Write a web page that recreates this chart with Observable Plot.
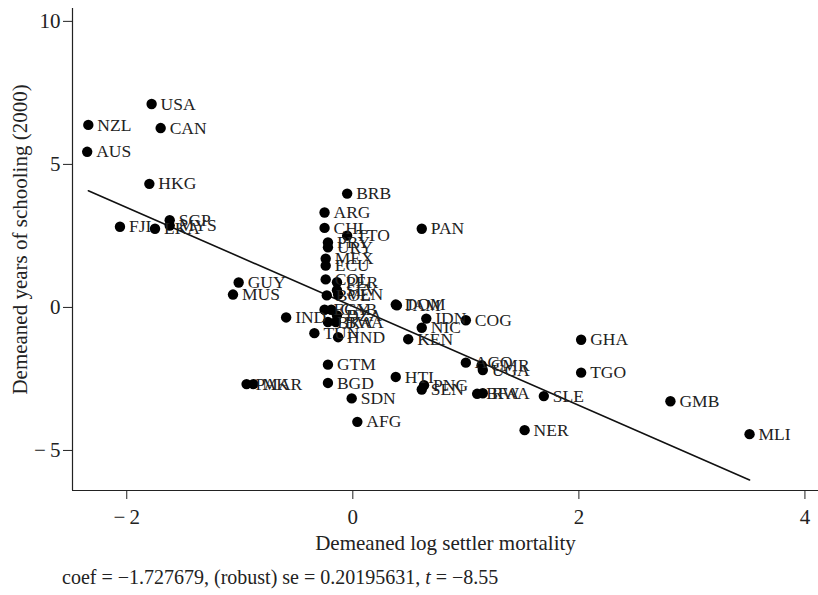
<!DOCTYPE html>
<html>
<head>
<meta charset="utf-8">
<script src="https://cdn.jsdelivr.net/npm/d3@7"></script>
<script src="https://cdn.jsdelivr.net/npm/@observablehq/plot@0.6"></script>
<style>
  html, body { margin: 0; padding: 0; background: #fff; }
  #wrap { width: 818px; height: 595px; position: relative; font-family: "Liberation Serif", "DejaVu Serif", serif; }
  #foot { position: absolute; left: 62px; top: 565px; font-size: 20px; line-height: 24px; color: #222; white-space: nowrap; }
</style>
</head>
<body>
<div id="wrap">
  <div id="chart"></div>
  <div id="foot">coef = −1.727679, (robust) se = 0.20195631, <i>t</i> = −8.55</div>
</div>
<script>
const countries = ["USA","NZL","CAN","AUS","HKG","FJI","SGP","MYS","LKA","GUY","MUS","IND","TUN","PAK","MAR",
  "BRB","ARG","CHL","TTO","PRY","URY","MEX","ECU","COL","PER","SLV","BOL","VEN","EGY","GAB","DZA","BRA","BWA","HND",
  "GTM","BGD","SDN","AFG","HTI","DOM","JAM","IDN","NIC","COG","KEN","PAN","AGO","CMR","UGA","PNG","SEN","BFA","RWA",
  "SLE","GHA","TGO","GMB","NER","MLI"];
const logMortality = [-1.78,-2.34,-1.70,-2.35,-1.80,-2.06,-1.62,-1.62,-1.75,-1.01,-1.06,-0.59,-0.34,-0.94,-0.88,
  -0.05,-0.25,-0.25,-0.05,-0.22,-0.22,-0.24,-0.24,-0.24,-0.14,-0.14,-0.23,-0.13,-0.25,-0.19,-0.14,-0.22,-0.15,-0.13,
  -0.22,-0.22,-0.01,0.04,0.38,0.38,0.39,0.65,0.61,1.00,0.49,0.61,1.00,1.14,1.15,0.63,0.61,1.10,1.15,
  1.69,2.02,2.02,2.81,1.52,3.51];
const schooling = [7.11,6.38,6.27,5.44,4.32,2.82,3.05,2.86,2.75,0.87,0.45,-0.35,-0.90,-2.68,-2.68,
  3.98,3.32,2.78,2.51,2.27,2.10,1.70,1.46,0.98,0.88,0.60,0.42,0.45,-0.08,-0.08,-0.28,-0.51,-0.51,-1.04,
  -2.00,-2.64,-3.18,-4.00,-2.43,0.10,0.07,-0.39,-0.71,-0.45,-1.11,2.75,-1.93,-2.02,-2.19,-2.72,-2.87,-3.02,-3.00,
  -3.10,-1.13,-2.28,-3.28,-4.29,-4.43];
const fitX = [-2.34, 3.51];
const fitY = [4.08, -6.03];
const xTicks = [-2, 0, 2, 4];
const yTicks = [-5, 0, 5, 10];
const xDomain = [-2.48, 4.12];
const yDomain = [-6.4, 10.45];
const xTitle = "Demeaned log settler mortality";
const yTitle = "Demeaned years of schooling (2000)";

const points = countries.map((c, i) => ({c, x: logMortality[i], y: schooling[i]}));
const fit = fitX.map((x, i) => ({x, y: fitY[i]}));
const fmt = d => d < 0 ? "\u2212\u2009" + Math.abs(d) : String(d);

const chart = Plot.plot({
  width: 818,
  height: 562,
  marginLeft: 72,
  marginRight: 0,
  marginTop: 8,
  marginBottom: 72,
  style: {fontFamily: "Liberation Serif, DejaVu Serif, serif", background: "#fff", color: "#222"},
  x: {domain: xDomain},
  y: {domain: yDomain},
  marks: [
    Plot.axisX({ticks: xTicks, tickFormat: fmt, tickSize: 9, tickPadding: 10, fontSize: 21, label: null, stroke: "#222"}),
    Plot.axisY({ticks: yTicks, tickFormat: fmt, tickSize: 9, tickPadding: 3, fontSize: 21, label: null, stroke: "#222"}),
    Plot.ruleY([yDomain[0]], {stroke: "#222", strokeWidth: 1.2}),
    Plot.ruleX([xDomain[0]], {stroke: "#222", strokeWidth: 1.2}),
    Plot.line(fit, {x: "x", y: "y", stroke: "#111", strokeWidth: 1.6}),
    Plot.dot(points, {x: "x", y: "y", r: 5.2, fill: "#000", stroke: "none"}),
    Plot.text(points, {x: "x", y: "y", text: "c", textAnchor: "start", dx: 9, fontSize: 17.5, fill: "#222"}),
    Plot.text([xTitle], {frameAnchor: "bottom", dy: 59, fontSize: 21, fill: "#222"}),
    Plot.text([yTitle], {frameAnchor: "left", textAnchor: "middle", rotate: -90, dx: -52, dy: -10, fontSize: 21, fill: "#222"})
  ]
});
document.getElementById("chart").appendChild(chart);
</script>
</body>
</html>
